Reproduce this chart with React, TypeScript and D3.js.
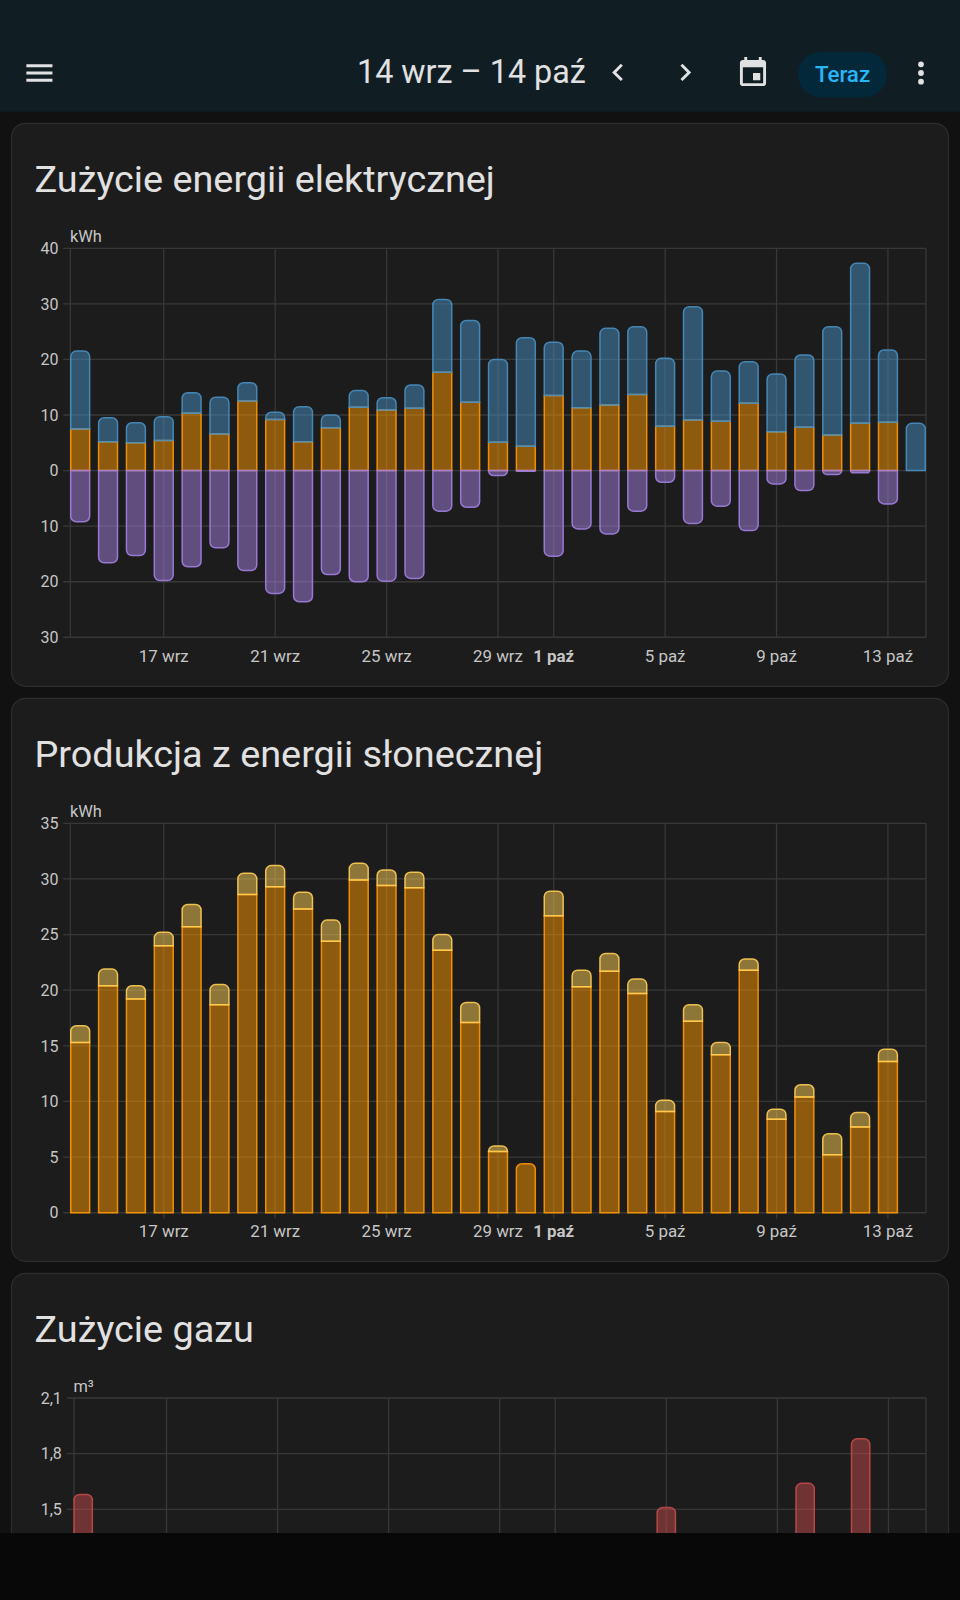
import React from "react";
import * as d3 from "d3";

const dayCount = 31;
const tickDays = [3, 7, 11, 15, 17, 21, 25, 29];
const tickLabels = ["17 wrz", "21 wrz", "25 wrz", "29 wrz", "1 paź", "5 paź", "9 paź", "13 paź"];
const boldTick = "1 paź";

const solarUsed = [7.5, 5.2, 5.0, 5.4, 10.3, 6.6, 12.5, 9.2, 5.2, 7.7, 11.4, 10.9, 11.2, 17.7, 12.3, 5.1, 4.4, 13.5, 11.3, 11.8, 13.7, 8.0, 9.1, 8.9, 12.1, 7.0, 7.8, 6.4, 8.5, 8.7, 0];
const gridImport = [14.0, 4.3, 3.6, 4.3, 3.7, 6.6, 3.3, 1.3, 6.3, 2.3, 3.0, 2.2, 4.2, 13.1, 14.7, 14.9, 19.5, 9.6, 10.2, 13.8, 12.2, 12.2, 20.4, 9.0, 7.5, 10.4, 13.0, 19.5, 28.8, 13.0, 8.5];
const gridExport = [9.2, 16.6, 15.3, 19.8, 17.3, 13.9, 18.0, 22.1, 23.6, 18.7, 20.0, 19.9, 19.4, 7.3, 6.6, 0.9, 0.1, 15.4, 10.5, 11.4, 7.3, 2.1, 9.5, 6.4, 10.8, 2.4, 3.6, 0.7, 0.4, 6.0, 0];

const solarMain = [15.3, 20.4, 19.2, 24.0, 25.7, 18.7, 28.6, 29.3, 27.3, 24.4, 29.9, 29.4, 29.2, 23.6, 17.1, 5.5, 4.4, 26.7, 20.3, 21.7, 19.7, 9.1, 17.2, 14.2, 21.8, 8.4, 10.4, 5.2, 7.7, 13.6, 0];
const solarSecond = [1.5, 1.5, 1.2, 1.2, 2.0, 1.8, 1.9, 1.9, 1.5, 1.9, 1.5, 1.4, 1.4, 1.4, 1.8, 0.5, 0, 2.2, 1.5, 1.6, 1.3, 1.0, 1.5, 1.1, 1.0, 0.9, 1.1, 1.9, 1.3, 1.1, 0];

const gasDays = [0, 21, 26, 28];
const gasValues = [1.58, 1.51, 1.64, 1.88];

const energyTicks = [40, 30, 20, 10, 0, -10, -20, -30];
const solarTicks = [35, 30, 25, 20, 15, 10, 5, 0];
const gasTicks = [2.1, 1.8, 1.5];

const BLUE = "#488fc2";
const ORANGE = "#ff9800";
const PURPLE = "#a27fe0";
const YELLOW = "#ffce54";
const RED = "#c44a4a";
const FONT = "Roboto, sans-serif";
const GRID = "#383838";
const LABEL = "#c6c6c6";

const MENU = "M3,6H21V8H3V6M3,11H21V13H3V11M3,16H21V18H3V16Z";
const CHEV_L = "M15.41,16.58L10.83,12L15.41,7.41L14,6L8,12L14,18L15.41,16.58Z";
const CHEV_R = "M8.59,16.58L13.17,12L8.59,7.41L10,6L16,12L10,18L8.59,16.58Z";
const CAL = "M19,19H5V8H19M19,3H18V1H16V3H8V1H6V3H5C3.89,3 3,3.9 3,5V19C3,20.1 3.9,21 5,21H19C20.1,21 21,20.1 21,19V5C21,3.9 20.1,3 19,3M12,12H17V17H12V12Z";
const DOTS = "M12,16A2,2 0 0,1 14,18A2,2 0 0,1 12,20A2,2 0 0,1 10,18A2,2 0 0,1 12,16M12,10A2,2 0 0,1 14,12A2,2 0 0,1 12,14A2,2 0 0,1 10,12A2,2 0 0,1 12,10M12,4A2,2 0 0,1 14,6A2,2 0 0,1 12,8A2,2 0 0,1 10,6A2,2 0 0,1 12,4Z";

function barPath(x0: number, x1: number, yFlat: number, yEnd: number, r: number) {
  const p = d3.path();
  const s = yEnd < yFlat ? 1 : -1;
  const rr = Math.min(r, Math.abs(yEnd - yFlat));
  p.moveTo(x0, yFlat);
  p.lineTo(x0, yEnd + s * rr);
  p.arcTo(x0, yEnd, x0 + rr, yEnd, rr);
  p.lineTo(x1 - rr, yEnd);
  p.arcTo(x1, yEnd, x1, yEnd + s * rr, rr);
  p.lineTo(x1, yFlat);
  p.closePath();
  return p.toString();
}

function Bar({ x, w, y0, y1, color, rounded }: any) {
  const inset = 0.75;
  return (
    <path
      d={barPath(x - w / 2 + inset, x + w / 2 - inset, y0, y1, rounded ? 5.5 : 0)}
      fill={color}
      fillOpacity={0.5}
      stroke={color}
      strokeOpacity={0.9}
      strokeWidth={1.5}
    />
  );
}

function Card({ top, title }: { top: number; title: string }) {
  return (
    <g>
      <rect x={11.5} y={top} width={937} height={563} rx={14} fill="#1c1c1c" stroke="#2e2e2e" strokeWidth={1.2} />
      <text x={34.5} y={top + 68.4} fontFamily={FONT} fontSize={37.8} fill="#e1e1e1">{title}</text>
    </g>
  );
}

function Frame({ x, y, ticks, fmt, axisLeft, axisRight, top, bottom, unit, unitX, unitY, labelY, tickLen, labelRight }: any) {
  return (
    <g>
      {d3.range(y.domain()[0], y.domain()[1] - 0.001, (y.domain()[1] - y.domain()[0]) / (ticks.length >= 8 ? ticks.length - 1 : 7)).map((t: number) => (
        <line key={t} x1={axisLeft - 7} x2={axisRight} y1={y(t)} y2={y(t)} stroke={GRID} strokeWidth={1.3} />
      ))}
      <line x1={axisLeft - 7} x2={axisRight} y1={bottom} y2={bottom} stroke={GRID} strokeWidth={1.3} />
      <line x1={axisLeft} x2={axisLeft} y1={top} y2={bottom} stroke={GRID} strokeWidth={1.3} />
      <line x1={axisRight} x2={axisRight} y1={top} y2={bottom} stroke={GRID} strokeWidth={1.3} />
      {tickDays.map((d, i) => (
        <g key={d}>
          <line x1={x(d)} x2={x(d)} y1={top} y2={bottom + tickLen} stroke={GRID} strokeWidth={1.3} />
          {labelY != null && (
            <text
              x={x(d)}
              y={labelY}
              textAnchor="middle"
              fontFamily={FONT}
              fontSize={16.9}
              fontWeight={tickLabels[i] === boldTick ? 700 : 400}
              fill={LABEL}
            >
              {tickLabels[i]}
            </text>
          )}
        </g>
      ))}
      {ticks.map((t: number) => (
        <text key={t} x={labelRight} y={y(t) + 5.7} textAnchor="end" fontFamily={FONT} fontSize={16} fill={LABEL}>
          {fmt(t)}
        </text>
      ))}
      <text x={unitX} y={unitY} fontFamily={FONT} fontSize={16.4} fill={LABEL}>{unit}</text>
    </g>
  );
}

export default function App() {
  const days = d3.range(dayCount);
  const x12 = d3.scaleLinear().domain([0, 30]).range([80.2, 915.8]);
  const x3 = d3.scaleLinear().domain([0, 30]).range([83.2, 916.2]);
  const yE = d3.scaleLinear().domain([40, -30]).range([248.3, 637.3]);
  const yS = d3.scaleLinear().domain([35, 0]).range([823.3, 1212.7]);
  const yG = d3.scaleLinear().domain([2.1, 0]).range([1398, 1787.5]);
  const w = 20.4;

  return (
    <svg
      width={960}
      height={1600}
      viewBox="0 0 960 1600"
      style={{ position: "fixed", left: 0, top: 0, display: "block" }}
    >
      <rect width={960} height={1600} fill="#111111" />

      <Card top={123.3} title="Zużycie energii elektrycznej" />
      <Card top={698.3} title="Produkcja z energii słonecznej" />
      <Card top={1273.3} title="Zużycie gazu" />

      <Frame
        x={x12} y={yE} ticks={energyTicks} fmt={(t: number) => String(Math.abs(t))}
        axisLeft={70.3} axisRight={926} top={248.3} bottom={637.3} tickLen={0}
        unit="kWh" unitX={70} unitY={241.5} labelY={662} labelRight={58.5}
      />
      {days.map((d) => {
        const y0 = yE(0);
        const a = solarUsed[d];
        const b = a + gridImport[d];
        return (
          <g key={d}>
            {a > 0 && <Bar x={x12(d)} w={w} y0={y0} y1={yE(a)} color={ORANGE} rounded={gridImport[d] === 0} />}
            {gridImport[d] > 0 && <Bar x={x12(d)} w={w} y0={yE(a)} y1={yE(b)} color={BLUE} rounded />}
            {gridExport[d] > 0 && <Bar x={x12(d)} w={w} y0={y0} y1={yE(-gridExport[d])} color={PURPLE} rounded />}
          </g>
        );
      })}

      <Frame
        x={x12} y={yS} ticks={solarTicks} fmt={(t: number) => String(t)}
        axisLeft={70.3} axisRight={926} top={823.3} bottom={1212.7} tickLen={6}
        unit="kWh" unitX={70} unitY={817.3} labelY={1237.3} labelRight={58.5}
      />
      {days.map((d) => {
        const a = solarMain[d];
        const b = a + solarSecond[d];
        return (
          <g key={d}>
            {a > 0 && <Bar x={x12(d)} w={w} y0={yS(0)} y1={yS(a)} color={ORANGE} rounded={solarSecond[d] === 0} />}
            {solarSecond[d] > 0 && <Bar x={x12(d)} w={w} y0={yS(a)} y1={yS(b)} color={YELLOW} rounded />}
          </g>
        );
      })}

      <Frame
        x={x3} y={yG} ticks={gasTicks} fmt={(t: number) => d3.format(".1f")(t).replace(".", ",")}
        axisLeft={74} axisRight={926} top={1398} bottom={1600} tickLen={0}
        unit="m³" unitX={73.5} unitY={1392} labelY={null} labelRight={61.8}
      />
      {gasDays.map((d, i) => (
        <Bar key={d} x={x3(d)} w={19.8} y0={yG(0)} y1={yG(gasValues[i])} color={RED} rounded />
      ))}

      <rect x={0} y={1533} width={960} height={67} fill="#080808" />

      <rect x={0} y={0} width={960} height={111.7} fill="#101e24" />
      <g fill="#e1e1e1">
        <path d={MENU} transform="translate(22,55.6) scale(1.45)" />
        <text x={357} y={83} fontFamily={FONT} fontSize={32.3} fill="#e1e1e1">14 wrz – 14 paź</text>
        <path d={CHEV_L} transform="translate(600.5,55) scale(1.45)" />
        <path d={CHEV_R} transform="translate(668,55) scale(1.45)" />
        <path d={CAL} fillRule="evenodd" transform="translate(735.6,55.6) scale(1.45)" />
        <path d={DOTS} transform="translate(903.6,55.6) scale(1.45)" />
      </g>
      <rect x={798} y={51.7} width={89} height={45.5} rx={22.7} fill="#03283a" />
      <text x={842.5} y={81.5} textAnchor="middle" fontFamily={FONT} fontWeight={500} fontSize={22.3} fill="#29b6f6">Teraz</text>
    </svg>
  );
}
